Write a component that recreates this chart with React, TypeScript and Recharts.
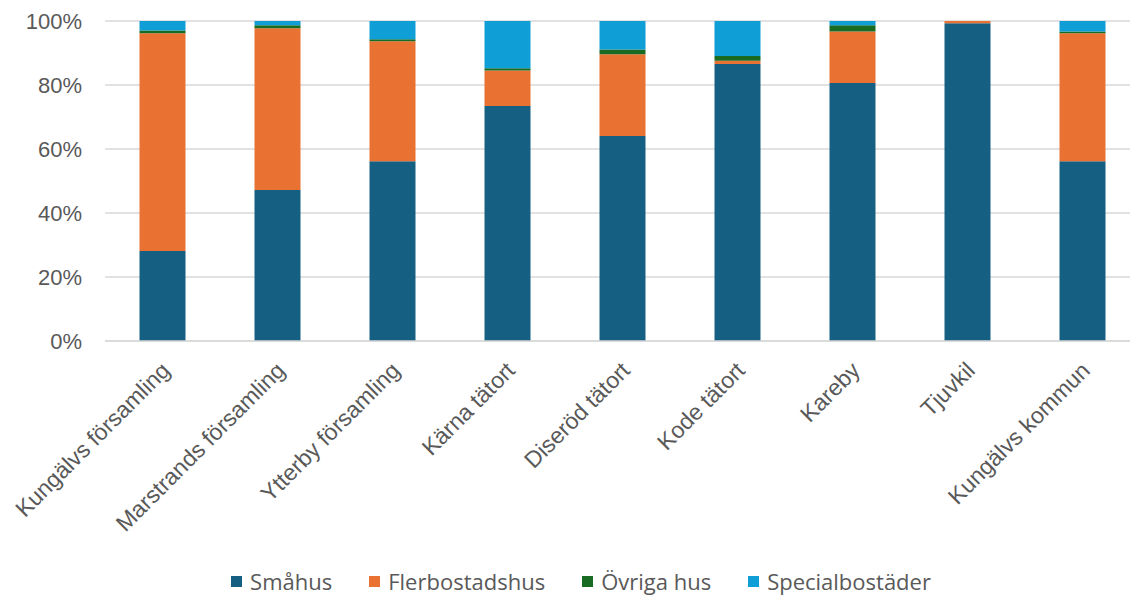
import React from "react";
import { BarChart, Bar, XAxis, YAxis, CartesianGrid, Legend } from "recharts";

// Area names along the x axis
const categories = [
  "Kungälvs församling",
  "Marstrands församling",
  "Ytterby församling",
  "Kärna tätort",
  "Diseröd tätort",
  "Kode tätort",
  "Kareby",
  "Tjuvkil",
  "Kungälvs kommun",
];

// Share of dwellings per building type, in percent
const smahus = [28.1, 47.2, 56.2, 73.4, 64.1, 86.6, 80.6, 99.3, 56.2];
const flerbostadshus = [68.1, 50.5, 37.5, 11.1, 25.5, 1.0, 16.1, 0.7, 40.0];
const ovrigaHus = [0.8, 1.0, 0.6, 0.7, 1.5, 1.5, 2.0, 0.0, 0.5];
const specialbostader = [3.0, 1.3, 5.7, 14.8, 8.9, 10.9, 1.3, 0.0, 3.3];

const yTicks = [0, 20, 40, 60, 80, 100];

const seriesInfo = [
  { key: "smahus", name: "Småhus", color: "#156082" },
  { key: "flerbostadshus", name: "Flerbostadshus", color: "#E97132" },
  { key: "ovriga", name: "Övriga hus", color: "#196B24" },
  { key: "special", name: "Specialbostäder", color: "#0F9ED5" },
];

const data = categories.map((name, i) => ({
  name,
  smahus: smahus[i],
  flerbostadshus: flerbostadshus[i],
  ovriga: ovrigaHus[i],
  special: specialbostader[i],
}));

const AXIS_FONT = "Liberation Sans, Arial, sans-serif";
const LEGEND_FONT = "Open Sans, sans-serif";
const TEXT = "#595959";

// Category label rotated 45°, ending just right of the bar centre
const RotatedTick = (props: any) => {
  const { x, y, payload } = props;
  return (
    <g transform={`translate(${x - 3},${y + 11})`}>
      <text
        x={0}
        y={0}
        textAnchor="end"
        dominantBaseline="hanging"
        transform="rotate(-45)"
        fill={TEXT}
        fontSize={23}
        fontFamily={AXIS_FONT}
      >
        {payload.value}
      </text>
    </g>
  );
};

const LegendContent = () => (
  <div
    style={{
      display: "flex",
      justifyContent: "center",
      alignItems: "center",
      height: 30,
      gap: 37,
      fontFamily: LEGEND_FONT,
      fontSize: 22,
      color: TEXT,
      paddingLeft: 22,
    }}
  >
    {seriesInfo.map((s) => (
      <div key={s.key} style={{ display: "flex", alignItems: "center" }}>
        <span
          style={{
            display: "inline-block",
            width: 11,
            height: 11,
            background: s.color,
            marginRight: 8,
          }}
        />
        <span>{s.name}</span>
      </div>
    ))}
  </div>
);

export default function App() {
  return (
    <div style={{ position: "absolute", left: 0, top: 0, width: 1130, height: 596, overflow: "hidden", background: "#fff" }}>
      <BarChart
        width={1140}
        height={596}
        data={data}
        margin={{ top: 21, right: 0, bottom: 0, left: 0 }}
        barCategoryGap="30%"
      >
        <CartesianGrid vertical={false} stroke="#d9d9d9" strokeWidth={1.5} />
        <XAxis
          dataKey="name"
          interval={0}
          tick={<RotatedTick />}
          tickLine={false}
          axisLine={{ stroke: "#d9d9d9", strokeWidth: 1.5 }}
          height={225}
        />
        <YAxis
          domain={[0, 100]}
          ticks={yTicks}
          tickFormatter={(v: number) => `${v}%`}
          width={105}
          tickLine={false}
          axisLine={false}
          tickSize={0}
          tickMargin={23}
          tick={{ fill: TEXT, fontSize: 22, fontFamily: AXIS_FONT }}
          allowDataOverflow
        />
        <Legend
          verticalAlign="bottom"
          content={<LegendContent />}
          wrapperStyle={{ bottom: 0 }}
        />
        {seriesInfo.map((s) => (
          <Bar
            key={s.key}
            dataKey={s.key}
            name={s.name}
            stackId="a"
            fill={s.color}
            isAnimationActive={false}
          />
        ))}
      </BarChart>
    </div>
  );
}
